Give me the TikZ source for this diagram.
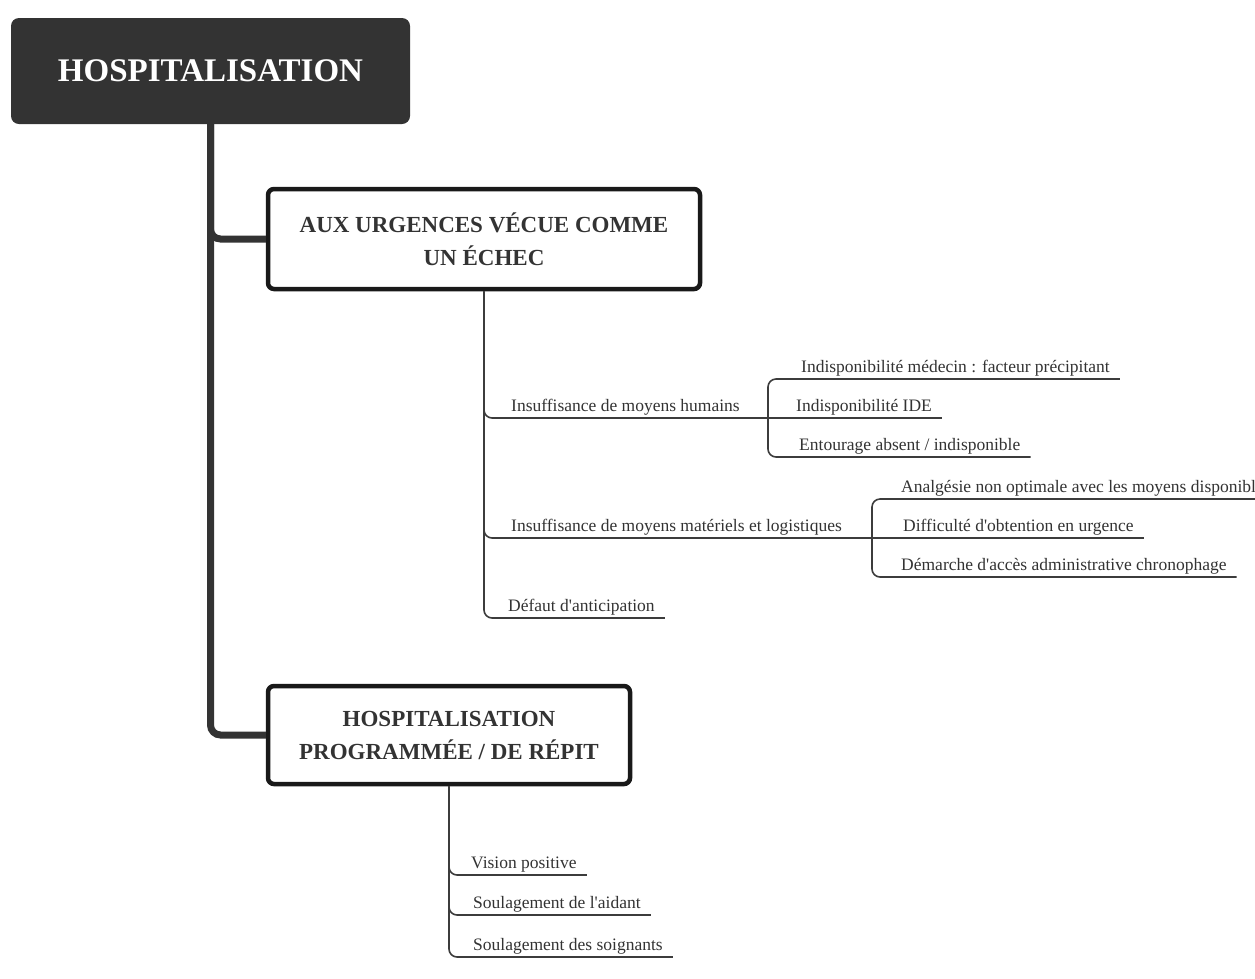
\documentclass[tikz,border=0pt]{standalone}
\usepackage{fontspec}
\setmainfont{Liberation Serif}[Ligatures=TeXOff]
\usetikzlibrary{positioning}
\definecolor{mapdark}{RGB}{51,51,51}
\definecolor{mapline}{RGB}{60,60,60}

\begin{document}
\begin{tikzpicture}[x=1pt, y=-1pt,
  rootbox/.style={rectangle, rounded corners=8pt, fill=mapdark, text=white, minimum width=399pt, minimum height=106pt, inner sep=0pt, font=\fontsize{33}{38}\selectfont\bfseries},
  mainbox/.style={rectangle, rounded corners=6pt, draw=black!90, line width=4.5pt, fill=white, text=mapdark, align=center, inner sep=0pt, font=\fontsize{23}{33}\selectfont\bfseries},
  leaf/.style={anchor=south west, inner xsep=10pt, inner ysep=6pt, text depth=0pt, text=mapdark, font=\fontsize{17.5}{20}\selectfont},
  trunk/.style={draw=mapdark, line width=7pt, rounded corners=10pt},
  twig/.style={draw=mapline, line width=1.6pt, rounded corners=8pt}]
\useasboundingbox (0,0) rectangle (1255,978);

% Main topics
\node[rootbox] (root) at (210.5,71) {HOSPITALISATION};
\node[mainbox, minimum width=432pt, minimum height=100pt] (urg) at (484,239) {AUX URGENCES VÉCUE COMME\\UN ÉCHEC};
\node[mainbox, minimum width=362pt, minimum height=98pt] (prog) at (449,735) {HOSPITALISATION\\PROGRAMMÉE / DE RÉPIT};

\draw[trunk] (root.south) |- (urg.west);
\draw[trunk] (root.south) |- (prog.west);

% Urgences
\coordinate (s1) at (768,418);
\coordinate (s2) at (872,538);
\node[leaf] (hum) at (501,418) {Insuffisance de moyens humains};
\node[leaf] (mat) at (501,538) {Insuffisance de moyens matériels et logistiques};
\node[leaf] (ant) at (498,618) {Défaut d'anticipation};

\draw[twig] (urg.south) |- (s1);
\draw[twig] (urg.south) |- (s2);
\draw[twig] (urg.south) |- (ant.south east);

\node[leaf] (med) at (791,379) {Indisponibilité médecin : facteur précipitant};
\node[leaf] (ide) at (786,418) {Indisponibilité IDE};
\node[leaf] (ent) at (789,457) {Entourage absent / indisponible};

\draw[twig] (s1) |- (med.south east);
\draw[twig] (s1) -- (ide.south east);
\draw[twig] (s1) |- (ent.south east);

\node[leaf, inner xsep=1pt] (ana) at (900,499) {Analgésie non optimale avec les moyens disponibl};
\node[leaf] (dif) at (893,538) {Difficulté d'obtention en urgence};
\node[leaf] (dem) at (891,577) {Démarche d'accès administrative chronophage};

\draw[twig] (s2) |- (ana.south east);
\draw[twig] (s2) -- (dif.south east);
\draw[twig] (s2) |- (dem.south east);

% Programmee
\node[leaf] (vis) at (461,875) {Vision positive};
\node[leaf] (aid) at (463,915) {Soulagement de l'aidant};
\node[leaf] (soi) at (463,957) {Soulagement des soignants};

\draw[twig] (prog.south) |- (vis.south east);
\draw[twig] (prog.south) |- (aid.south east);
\draw[twig] (prog.south) |- (soi.south east);
\end{tikzpicture}
\end{document}
